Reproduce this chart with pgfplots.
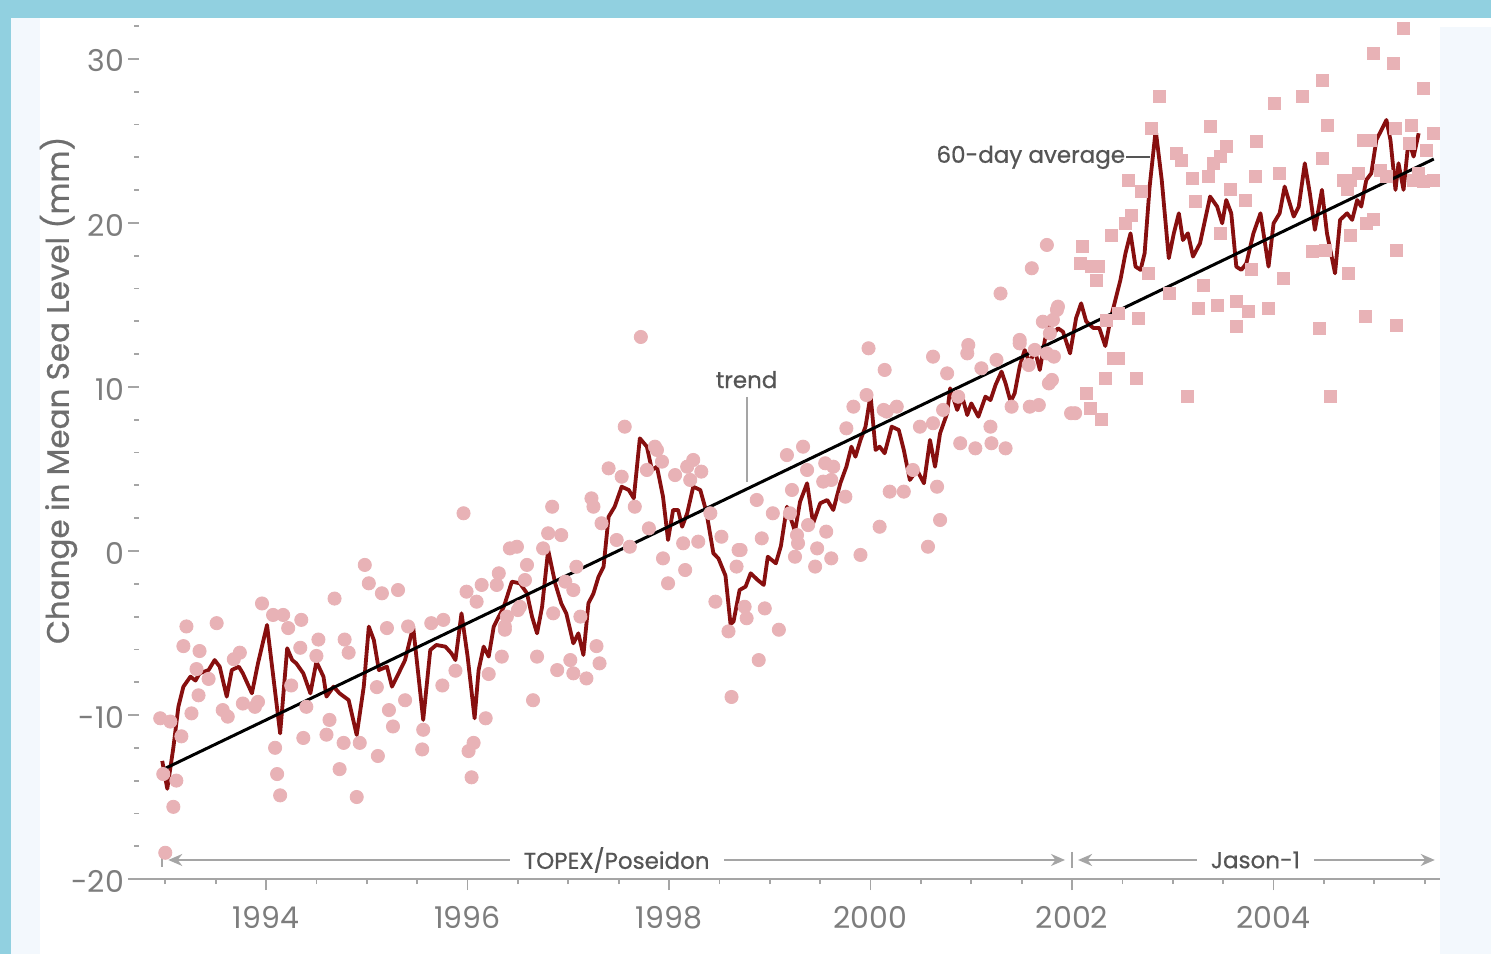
\documentclass[border=0pt]{standalone}
\usepackage{fontspec}
\setmainfont{Poppins}
\newfontfamily\popmed{Poppins}[FakeBold=0.7]
\usepackage{pgfplots}
\pgfplotsset{compat=1.18}
\usetikzlibrary{arrows.meta}
\definecolor{seared}{RGB}{135,15,15}
\definecolor{dotpink}{RGB}{232,178,182}
\definecolor{ticklab}{RGB}{125,125,125}
\definecolor{annot}{RGB}{85,85,85}
\definecolor{ylab}{RGB}{110,110,110}
\definecolor{axgray}{RGB}{165,165,165}
\definecolor{bgcyan}{RGB}{145,208,224}
\definecolor{paleblue}{RGB}{243,248,253}
\begin{document}
\begin{tikzpicture}
\fill[bgcyan] (-64pt,-37.5pt) rectangle (681.5pt,439.5pt);
\fill[white] (-58.5pt,-37.5pt) rectangle (681.5pt,430.5pt);
\fill[paleblue] (-58.5pt,-37.5pt) rectangle (-44pt,430.5pt);
\fill[paleblue] (656pt,-37.5pt) rectangle (681.5pt,426pt);
\begin{axis}[
  at={(0,0)}, anchor=south west,
  scale only axis, width=655.9pt, height=430.5pt,
  xmin=1992.63, xmax=2005.65, ymin=-20, ymax=32.5,
  axis x line*=bottom, axis y line*=left,
  x axis line style={-, draw=axgray, line width=1pt},
  y axis line style={draw=none},
  xtick={1994,1996,1998,2000,2002,2004},
  xticklabels={1994,1996,1998,2000,2002,2004},
  minor xtick={1993,1993.5,...,2005.5},
  ytick={-20,-10,0,10,20,30},
  yticklabels={-20,-10,0,10,20,30},
  minor ytick={-18,-16,...,32},
  tick align=outside,
  major tick length=5.5pt, minor tick length=2.5pt,
  every tick/.style={axgray, line width=0.9pt},
  y tick style={xshift=5.5pt},
  tick label style={ticklab, font=\fontsize{15}{18}\selectfont},
  x tick label style={yshift=-4.5pt},
  y tick label style={xshift=7pt, yshift=-1pt},
  clip=false,
]
% TOPEX/Poseidon measurements (circles)
\addplot[only marks, dotpink, mark=*, mark size=3.3pt] table {
1992.95 -10.2
1993.05 -10.4
1993.16 -11.3
1992.98 -13.6
1993.11 -14.0
1993.08 -15.6
1993.00 -18.4
1993.26 -9.9
1993.33 -8.8
1993.31 -7.2
1993.18 -5.8
1993.34 -6.1
1993.43 -7.8
1993.57 -9.7
1993.62 -10.1
1993.77 -9.3
1993.89 -9.5
1993.92 -9.2
1993.74 -6.2
1993.68 -6.6
1994.09 -12.0
1994.11 -13.6
1994.14 -14.9
1994.34 -5.9
1994.25 -8.2
1994.37 -11.4
1994.40 -9.5
1994.50 -6.4
1994.63 -10.3
1994.60 -11.2
1994.77 -11.7
1994.73 -13.3
1994.90 -15.0
1994.93 -11.7
1994.82 -6.2
1995.11 -12.5
1995.10 -8.3
1995.22 -9.7
1995.26 -10.7
1995.38 -9.1
1995.56 -10.9
1995.55 -12.1
1995.75 -8.2
1995.88 -7.3
1996.01 -12.2
1996.06 -11.7
1996.04 -13.8
1996.18 -10.2
1996.21 -7.5
1993.21 -4.6
1993.51 -4.4
1993.96 -3.2
1994.07 -3.9
1994.17 -3.9
1994.22 -4.7
1994.35 -4.2
1994.52 -5.4
1994.68 -2.9
1994.78 -5.4
1994.98 -0.85
1995.02 -1.97
1995.15 -2.58
1995.31 -2.38
1995.20 -4.7
1995.41 -4.6
1995.64 -4.4
1995.76 -4.2
1995.99 -2.48
1996.09 -3.09
1996.14 -2.07
1996.29 -2.07
1996.31 -1.36
1996.37 -4.6
1996.50 -3.6
1996.34 -6.44
1995.96 2.3
1996.42 0.16
1996.49 0.26
1996.59 -0.85
1996.75 0.16
1996.84 2.7
1996.80 1.08
1996.93 0.97
1996.57 -1.77
1996.52 -3.4
1996.39 -4.0
1996.37 -4.8
1996.85 -3.8
1997.12 -4.0
1997.08 -0.96
1996.97 -1.87
1997.05 -2.38
1997.28 -5.8
1997.31 -6.85
1996.89 -7.26
1997.02 -6.65
1997.05 -7.46
1997.18 -7.77
1996.69 -6.44
1996.65 -9.1
1997.25 2.7
1997.23 3.21
1997.33 1.69
1997.40 5.04
1997.53 4.53
1997.56 7.58
1997.48 0.67
1997.61 0.26
1997.66 2.7
1997.78 4.94
1997.86 6.36
1997.88 6.16
1997.93 5.45
1997.80 1.38
1997.94 -0.45
1997.99 -1.97
1998.06 4.63
1998.16 -1.16
1998.14 0.47
1998.18 5.14
1998.24 5.55
1998.32 4.84
1998.29 0.57
1998.21 4.33
1998.41 2.3
1998.52 0.87
1998.69 0.06
1998.46 -3.09
1998.59 -4.9
1998.62 -8.9
1998.77 -4.1
1998.75 -3.4
1998.89 -6.65
1998.95 -3.5
1999.09 -4.8
1998.92 0.77
1998.87 3.11
1999.03 2.3
1999.17 5.85
1999.22 3.72
1999.25 -0.35
1999.28 0.47
1997.72 13.05
1998.67 -0.95
1999.98 12.36
2000.14 11.04
2000.62 11.85
2000.76 10.83
2000.97 12.56
2000.96 12.05
2001.10 11.14
2001.25 11.65
2001.48 12.66
2001.71 13.98
2001.85 14.7
2001.77 10.22
2001.82 11.85
2001.57 11.34
2001.63 12.26
2001.40 8.8
2001.58 8.8
2001.67 8.9
2001.99 8.4
2001.19 7.58
2001.20 6.57
2001.34 6.26
2001.04 6.26
2000.89 6.57
2000.87 9.41
2000.72 8.6
2000.62 7.79
2000.49 7.58
2000.66 3.92
2000.69 1.89
2000.57 0.26
2000.42 4.94
2000.33 3.62
2000.19 3.62
2000.09 1.48
2000.13 8.6
2000.16 8.5
2000.26 8.8
1999.83 8.8
1999.76 7.48
1999.96 9.51
1999.90 -0.24
1999.75 3.31
1999.63 5.14
1999.53 4.23
1999.55 5.35
1999.61 4.33
1999.33 6.36
1999.37 4.94
1999.27 0.97
1999.47 0.16
1999.45 -0.95
1999.61 -0.45
1999.56 1.18
1999.38 1.58
1999.20 2.3
1998.71 0.06
2001.75 18.66
2001.60 17.24
2001.29 15.7
2001.86 14.9
2001.81 14.09
2001.78 13.27
2001.75 12.05
2001.80 10.43
2001.48 12.87
2002.03 8.4
};
% Jason-1 measurements (squares)
\addplot[only marks, dotpink, mark=square*, mark size=3pt] table {
2002.10 18.56
2002.08 17.54
2002.19 17.34
2002.26 17.34
2002.24 16.53
2002.14 9.6
2002.18 8.7
2002.29 8.0
2002.33 10.53
2002.64 10.53
2002.41 11.75
2002.46 11.75
2002.34 14.09
2002.46 14.49
2002.66 14.2
2002.39 19.27
2002.53 19.98
2002.59 20.49
2002.69 21.9
2002.56 22.62
2002.79 25.77
2002.87 27.7
2002.76 16.93
2002.97 15.7
2003.14 9.41
2003.04 24.25
2003.09 23.84
2003.19 22.72
2003.35 22.83
2003.22 21.3
2003.37 25.87
2003.40 23.64
2003.47 24.05
2003.53 24.66
2003.57 22.02
2003.72 21.4
2003.82 22.83
2003.83 24.96
2004.01 27.3
2004.06 23.03
2003.30 16.22
2003.47 19.37
2003.25 14.8
2003.44 15.0
2003.63 15.2
2003.75 14.6
2003.95 14.8
2003.63 13.68
2003.78 17.14
2004.10 16.63
2004.29 27.7
2004.48 28.72
2004.53 25.97
2004.48 23.95
2004.39 18.25
2004.51 18.35
2004.45 13.58
2004.56 9.41
2004.69 22.62
2004.76 22.62
2004.73 22.02
2004.84 23.03
2004.89 25.06
2004.96 25.06
2004.76 19.27
2004.74 16.93
2004.91 14.29
2004.92 19.98
2004.99 20.19
2004.99 30.35
2005.19 29.74
2005.29 31.87
2005.22 18.35
2005.22 13.78
2005.21 25.77
2005.37 25.97
2005.49 28.2
2005.59 25.47
2005.52 24.45
2005.44 23.03
2005.49 22.52
2005.59 22.62
2005.39 22.62
2005.35 24.86
2005.12 22.83
2005.06 23.23
};
% 60-day average
\addplot[seared, line width=1.9pt, line join=round, mark=none] table {
1992.97 -12.8
1993.02 -14.5
1993.08 -12.0
1993.13 -9.5
1993.18 -8.27
1993.25 -7.66
1993.30 -7.9
1993.34 -7.46
1993.43 -7.26
1993.49 -6.65
1993.54 -7.05
1993.61 -8.88
1993.66 -7.26
1993.73 -7.05
1993.77 -7.46
1993.86 -8.68
1993.92 -6.85
1994.01 -4.51
1994.14 -11.12
1994.21 -5.93
1994.26 -6.65
1994.30 -6.85
1994.37 -7.46
1994.44 -8.68
1994.50 -6.75
1994.57 -7.66
1994.60 -8.88
1994.67 -8.27
1994.73 -8.68
1994.82 -9.09
1994.90 -11.22
1994.97 -8.27
1995.02 -4.61
1995.07 -5.43
1995.12 -7.26
1995.20 -7.05
1995.25 -8.27
1995.30 -7.66
1995.38 -6.65
1995.46 -4.61
1995.56 -10.30
1995.63 -6.04
1995.69 -5.73
1995.78 -5.83
1995.84 -6.24
1995.88 -6.65
1995.94 -3.80
1996.00 -6.4
1996.07 -10.20
1996.11 -7.26
1996.16 -5.83
1996.21 -6.44
1996.26 -4.61
1996.36 -3.40
1996.44 -1.87
1996.52 -1.97
1996.59 -2.58
1996.64 -4.0
1996.69 -5.02
1996.74 -3.40
1996.80 0.06
1996.87 -1.97
1996.93 -3.19
1996.98 -3.80
1997.05 -5.63
1997.10 -5.02
1997.15 -6.34
1997.20 -3.19
1997.25 -2.58
1997.30 -1.57
1997.35 -0.96
1997.40 2.09
1997.46 2.70
1997.53 3.92
1997.60 3.72
1997.65 3.21
1997.71 6.87
1997.78 6.36
1997.83 4.94
1997.88 5.14
1997.94 3.31
1997.99 0.67
1998.04 2.50
1998.09 2.50
1998.13 1.48
1998.18 2.30
1998.24 3.92
1998.31 3.72
1998.37 2.4
1998.44 -0.14
1998.49 -0.45
1998.56 -1.5
1998.61 -4.46
1998.64 -4.3
1998.70 -2.38
1998.76 -2.17
1998.81 -1.36
1998.88 -1.77
1998.94 -2.07
1998.98 -0.35
1999.06 -0.75
1999.11 0.3
1999.17 2.70
1999.25 1.2
1999.30 3.0
1999.37 4.13
1999.43 1.69
1999.50 2.91
1999.57 3.11
1999.63 2.50
1999.70 4.13
1999.76 5.14
1999.81 6.36
1999.85 5.75
1999.90 6.77
1999.95 7.58
2000.00 9.51
2000.05 6.16
2000.09 6.36
2000.14 5.96
2000.21 7.58
2000.28 7.38
2000.33 6.16
2000.39 4.33
2000.46 4.94
2000.53 4.13
2000.59 6.77
2000.64 5.14
2000.69 7.18
2000.76 8.39
2000.79 9.92
2000.86 8.60
2000.91 9.41
2000.96 8.29
2001.00 9.0
2001.07 8.19
2001.14 9.41
2001.19 9.2
2001.24 10.12
2001.30 10.94
2001.34 10.22
2001.39 9.1
2001.43 9.61
2001.48 11.24
2001.53 12.26
2001.58 11.44
2001.63 12.26
2001.68 11.04
2001.73 12.87
2001.77 13.68
2001.82 13.27
2001.86 13.58
2001.91 13.37
2001.98 12.05
2002.04 14.2
2002.09 15.1
2002.14 14.0
2002.21 13.6
2002.27 13.6
2002.33 12.5
2002.38 14.09
2002.43 15.31
2002.48 16.53
2002.53 18.15
2002.58 19.37
2002.63 17.34
2002.68 17.14
2002.72 18.15
2002.77 22.22
2002.83 25.67
2002.89 22.62
2002.96 17.85
2003.01 19.37
2003.06 20.59
2003.10 18.96
2003.15 19.37
2003.20 17.95
2003.27 18.76
2003.32 20.19
2003.37 21.61
2003.44 21.0
2003.49 19.98
2003.53 21.40
2003.58 20.59
2003.63 17.34
2003.68 17.14
2003.73 17.54
2003.80 19.37
2003.87 20.59
2003.95 17.34
2004.00 19.98
2004.06 20.59
2004.11 22.22
2004.20 20.39
2004.25 21.0
2004.31 23.64
2004.36 21.81
2004.41 19.58
2004.48 22.02
2004.53 19.37
2004.61 16.93
2004.66 20.19
2004.73 20.59
2004.78 20.19
2004.83 21.40
2004.87 21.0
2004.92 22.62
2004.97 23.03
2005.02 25.06
2005.12 26.28
2005.16 25.06
2005.21 22.02
2005.24 23.64
2005.29 22.02
2005.34 25.06
2005.39 24.05
2005.44 25.47
};
% trend
\addplot[black, line width=1.5pt, mark=none] table {
1992.95 -13.4
2005.59 23.9
};
% annotations
\node[rotate=90, ylab, font=\popmed\fontsize{15.5}{18}\selectfont] at (axis cs:1991.94,9.8) {Change in Mean Sea Level (mm)};
\draw[axgray, line width=0.9pt] (axis cs:1998.77,9.4) -- (axis cs:1998.77,4.2);
\node[annot, font=\popmed\fontsize{11.5}{14}\selectfont] at (axis cs:1998.77,10.45) {trend};
\node[annot, font=\popmed\fontsize{11.5}{14}\selectfont, anchor=east, inner sep=0pt] at (axis cs:2002.53,24.0) {60-day average};
\draw[annot, line width=0.9pt] (axis cs:2002.54,24.0) -- (axis cs:2002.77,24.0);
\draw[axgray, line width=0.9pt, {Stealth[length=7pt,width=6pt]}-{Stealth[length=7pt,width=6pt]}] (axis cs:1993.03,-18.84) -- (axis cs:2001.93,-18.84);
\draw[axgray, line width=0.9pt, {Stealth[length=7pt,width=6pt]}-{Stealth[length=7pt,width=6pt]}] (axis cs:2002.06,-18.84) -- (axis cs:2005.6,-18.84);
\draw[axgray, line width=0.9pt] (axis cs:1992.97,-18.45) -- (axis cs:1992.97,-19.25);
\draw[axgray, line width=0.9pt] (axis cs:2002.0,-18.35) -- (axis cs:2002.0,-19.35);
\node[annot, fill=white, inner xsep=7pt, inner ysep=1pt, font=\popmed\fontsize{11.5}{14}\selectfont] at (axis cs:1997.48,-18.84) {TOPEX/Poseidon};
\node[annot, fill=white, inner xsep=7pt, inner ysep=1pt, font=\popmed\fontsize{11.5}{14}\selectfont] at (axis cs:2003.82,-18.84) {Jason-1};
\end{axis}
\pgfresetboundingbox
\path[use as bounding box] (-64pt,-37.5pt) rectangle (681.5pt,439.5pt);
\end{tikzpicture}
\end{document}
